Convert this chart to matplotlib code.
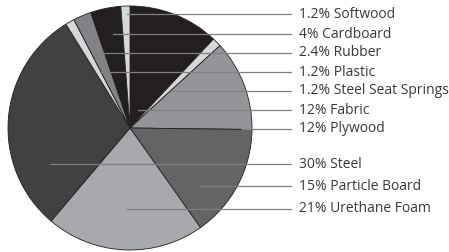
import matplotlib.pyplot as plt

# materials, in the clockwise order of the wedges starting from 12 o'clock
materials = ["Fabric", "Steel Seat Springs", "Plywood", "Particle Board",
             "Urethane Foam", "Steel", "Plastic", "Rubber", "Cardboard", "Softwood"]
shares = [12, 1.2, 12, 15, 21, 30, 1.2, 2.4, 4, 1.2]
share_text = ["12%", "1.2%", "12%", "15%", "21%", "30%", "1.2%", "2.4%", "4%", "1.2%"]
colors = ["#231f20", "#d6d7d9", "#939598", "#636466", "#a7a9ac",
          "#414042", "#d6d7d9", "#808285", "#231f20", "#d6d7d9"]

# legend order on the right, top to bottom
label_order = ["Softwood", "Cardboard", "Rubber", "Plastic", "Steel Seat Springs",
               "Fabric", "Plywood", "Steel", "Particle Board", "Urethane Foam"]
label_y = [14, 34, 53, 72, 91, 110, 129, 164, 186, 209]
line_x0 = [127, 113, 97, 100, 173, 138, 242, 50, 199, 127]

plt.rcParams['font.family'] = ['Open Sans', 'DejaVu Sans']

fig = plt.figure(figsize=(4.49, 2.52), dpi=100)
ax = fig.add_axes([0, 0, 1, 1])

ax.pie(shares, colors=colors, startangle=90, counterclock=False,
       center=(130, 124), radius=122, frame=True,
       wedgeprops=dict(edgecolor="#231f20", linewidth=0.6))
ax.set_xlim(0, 449)
ax.set_ylim(0, 252)
ax.set_aspect('equal')
ax.axis('off')

for name, y, x0 in zip(label_order, label_y, line_x0):
    i = materials.index(name)
    yy = 252 - y
    ax.plot([x0, 291], [yy, yy], color="#808080", lw=0.9, zorder=5)
    ax.text(299, yy, f"{share_text[i]} {name}", fontsize=10, color="#3a3a3c",
            va="center", ha="left")

fig.savefig("out.png", dpi=100)
